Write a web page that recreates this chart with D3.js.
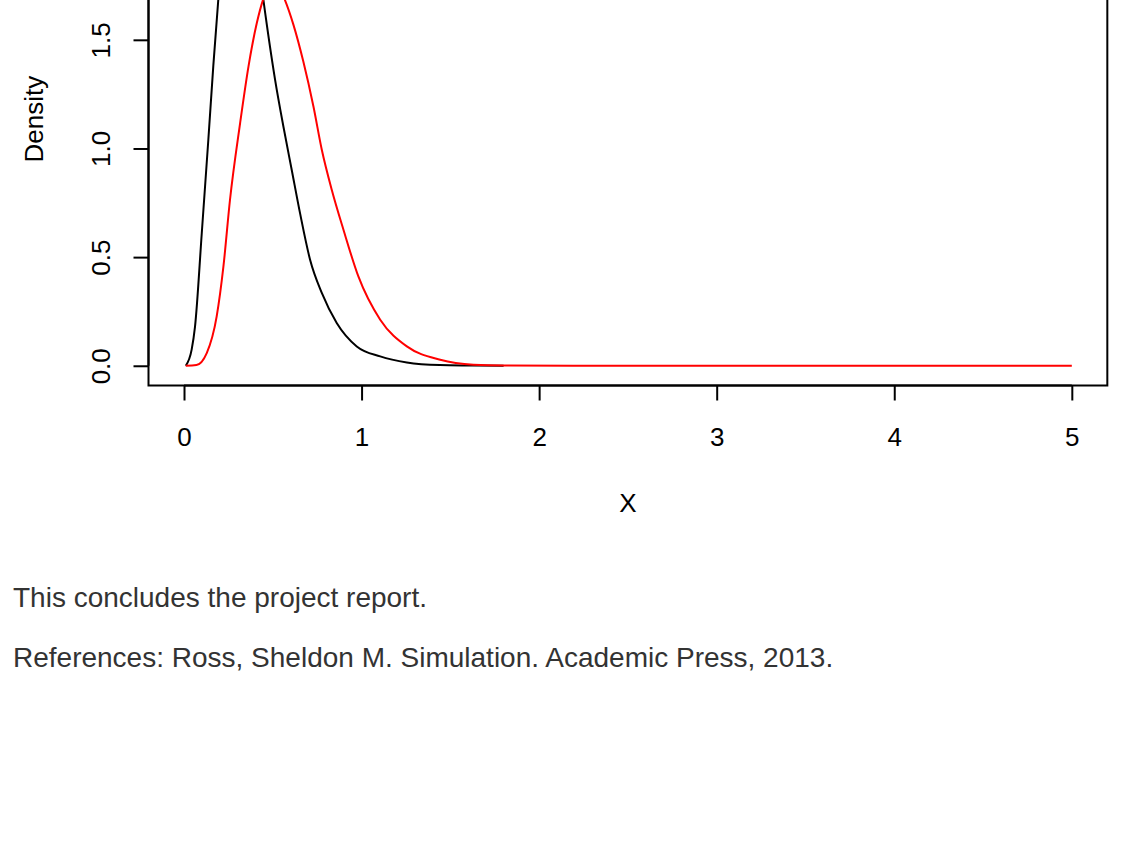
<!DOCTYPE html>
<html>
<head>
<meta charset="utf-8">
<script src="https://cdn.jsdelivr.net/npm/d3@7"></script>
<style>
  html, body { margin: 0; padding: 0; background: #fff; overflow: hidden; }
  svg { display: block; overflow: visible; }
  .axis text { font-family: "Liberation Sans", Arial, sans-serif; }
  .para { font-family: "Liberation Sans", Arial, sans-serif; fill: #333; font-size: 28px; }
</style>
</head>
<body>
<div id="chart"></div>
<script>
// simulated density (black) and theoretical density (red)
var simX = [0.01, 0.043, 0.062, 0.10, 0.137, 0.165, 0.193, 0.22, 0.25, 0.29, 0.31, 0.35, 0.40, 0.447,
            0.513, 0.56, 0.607, 0.654, 0.71, 0.776, 0.86, 0.973, 1.105, 1.255, 1.44, 1.6, 1.8];
var simD = [0, 0.074, 0.18, 0.61, 1.04, 1.38, 1.684, 1.93, 2.11, 2.24, 2.27, 2.21, 1.98, 1.684,
            1.316, 1.10, 0.90, 0.70, 0.488, 0.335, 0.197, 0.089, 0.043, 0.015, 0.003, 0.001, 0];

var thX = [0.01, 0.07, 0.128, 0.184, 0.222, 0.259, 0.316, 0.363, 0.41, 0.445, 0.48, 0.51, 0.54, 0.565,
           0.616, 0.672, 0.729, 0.776, 0.832, 0.898, 0.982, 1.105, 1.255, 1.443, 1.63, 1.8, 2.5, 5];
var thD = [0, 0.003, 0.058, 0.227, 0.457, 0.764, 1.117, 1.377, 1.577, 1.684, 1.745, 1.76, 1.735, 1.69,
           1.57, 1.40, 1.193, 0.994, 0.81, 0.626, 0.411, 0.212, 0.089, 0.028, 0.005, 0.001, 0, 0];

var xTicks = [0, 1, 2, 3, 4, 5];
var yTicks = [0, 0.5, 1, 1.5, 2];
var xLim = [0, 5];
var yLim = [0, 2.27];

var paragraphs = [
    "This concludes the project report.",
    "References: Ross, Sheldon M. Simulation. Academic Press, 2013."
];

var sim = simX.map((x, i) => ({x: x, d: simD[i]}));
var th = thX.map((x, i) => ({x: x, d: thD[i]}));

//-MAIN--------------------------------------------------------------------//
var pxX = 177.56, pxY = 217.3;   // pixels per unit
var width = (xLim[1] - xLim[0]) * 1.08 * pxX,
    height = (yLim[1] - yLim[0]) * 1.08 * pxY;
var margin = {left: 148.5, top: 385.5 - height};

var padX = 0.04 * (xLim[1] - xLim[0]),
    padY = 0.04 * (yLim[1] - yLim[0]);

var xScale = d3.scaleLinear()
    .domain([xLim[0] - padX, xLim[1] + padX])
    .range([0, width]);
var yScale = d3.scaleLinear()
    .domain([yLim[0] - padY, yLim[1] + padY])
    .range([height, 0]);

var svg = d3.select("#chart").append("svg")
    .attr("width", 1133)
    .attr("height", 862);

var g = svg.append("g")
    .attr("transform", `translate(${margin.left},${margin.top})`);

var xAxis = d3.axisBottom(xScale)
    .tickValues(xTicks)
    .tickSize(15)
    .tickFormat(d3.format("d"));
var yAxis = d3.axisLeft(yScale)
    .tickValues(yTicks)
    .tickSize(15)
    .tickFormat(d3.format(".1f"));

var gx = g.append("g")
    .attr("class", "axis x-axis")
    .attr("transform", `translate(0,${height})`)
    .call(xAxis);
gx.select(".domain")
    .attr("d", `M${xScale(xTicks[0])},0H${xScale(xTicks[xTicks.length - 1])}`);
gx.selectAll("text")
    .attr("font-size", 26)
    .attr("fill", "#000")
    .attr("dy", null)
    .attr("y", 60);

var gy = g.append("g")
    .attr("class", "axis y-axis")
    .call(yAxis);
gy.select(".domain")
    .attr("d", `M0,${yScale(yTicks[0])}V${yScale(yTicks[yTicks.length - 1])}`);
gy.selectAll(".tick text")
    .attr("font-size", 26)
    .attr("fill", "#000")
    .attr("x", null)
    .attr("dy", null)
    .attr("text-anchor", "middle")
    .attr("transform", "translate(-39,0) rotate(-90)");

g.selectAll(".axis path, .axis line")
    .attr("stroke", "#000")
    .attr("stroke-width", 2);

// box
g.append("rect")
    .attr("width", width)
    .attr("height", height)
    .attr("fill", "none")
    .attr("stroke", "#000")
    .attr("stroke-width", 2);

// axis titles
g.append("text")
    .attr("x", width / 2)
    .attr("y", height + 127)
    .attr("text-anchor", "middle")
    .attr("font-size", 26)
    .style("font-family", '"Liberation Sans", Arial, sans-serif')
    .text("X");
g.append("text")
    .attr("transform", `translate(${43 - margin.left},${height / 2}) rotate(-90)`)
    .attr("text-anchor", "middle")
    .attr("font-size", 26)
    .style("font-family", '"Liberation Sans", Arial, sans-serif')
    .text("Density");

var line = d3.line()
    .x(d => xScale(d.x))
    .y(d => yScale(d.d))
    .curve(d3.curveMonotoneX);

g.append("path")
    .datum(sim)
    .attr("d", line)
    .attr("fill", "none")
    .attr("stroke", "#000")
    .attr("stroke-width", 2);

g.append("path")
    .datum(th)
    .attr("d", line)
    .attr("fill", "none")
    .attr("stroke", "#ff0000")
    .attr("stroke-width", 2);

// report text below the figure
svg.selectAll("text.para").data(paragraphs)
    .enter().append("text")
    .attr("class", "para")
    .attr("x", 13)
    .attr("y", (d, i) => 606.5 + i * 60)
    .text(d => d);
</script>
</body>
</html>
